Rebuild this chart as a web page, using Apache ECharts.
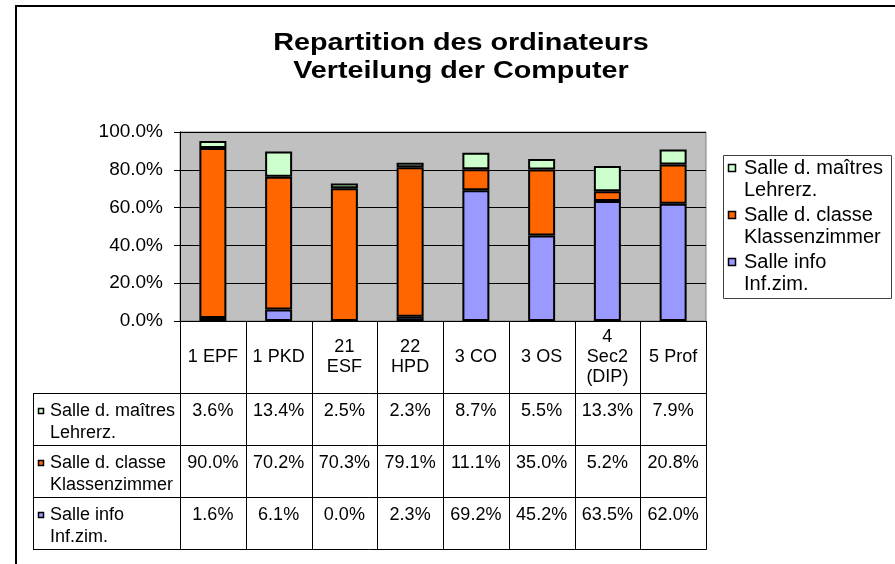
<!DOCTYPE html>
<html>
<head>
<meta charset="utf-8">
<script src="https://cdn.jsdelivr.net/npm/echarts@6/dist/echarts.min.js"></script>
<style>
html, body { margin: 0; padding: 0; background: #fff; }
#chart { width: 895px; height: 564px; }
</style>
</head>
<body>
<div id="chart"></div>
<script>
// categories = table header labels
var categories = ['1 EPF', '1 PKD', '21\nESF', '22\nHPD', '3 CO', '3 OS', '4\nSec2\n(DIP)', '5 Prof'];
var nameMaitres = 'Salle d. maîtres\nLehrerz.';
var nameClasse = 'Salle d. classe\nKlassenzimmer';
var nameInfo = 'Salle info\nInf.zim.';
// values in percent
var maitres = [3.6, 13.4, 2.5, 2.3, 8.7, 5.5, 13.3, 7.9];
var classe = [90.0, 70.2, 70.3, 79.1, 11.1, 35.0, 5.2, 20.8];
var info = [1.6, 6.1, 0.0, 2.3, 69.2, 45.2, 63.5, 62.0];
var yTicks = [0, 20, 40, 60, 80, 100];
var titleLines = ['Repartition des ordinateurs', 'Verteilung der Computer'];

var FONT = '"Liberation Sans", Arial, sans-serif';
var colMaitres = '#CCFFCC', colClasse = '#FF6600', colInfo = '#9999FF';

var chart = echarts.init(document.getElementById('chart'));

var barStyle = function (c) {
	return { color: c, borderColor: '#000', borderWidth: 2 };
};

var option = {
	animation: false,
	grid: {
		left: 180,
		top: 132,
		right: 189,
		bottom: 243,
		show: true,
		backgroundColor: '#C0C0C0',
		borderColor: '#808080',
		borderWidth: 1,
	},
	xAxis: {
		type: 'category',
		data: categories,
		axisLine: { lineStyle: { color: '#000', width: 1 } },
		axisTick: { show: false },
		axisLabel: { show: false },
	},
	yAxis: {
		type: 'value',
		min: yTicks[0],
		max: yTicks[yTicks.length - 1],
		interval: yTicks[1] - yTicks[0],
		axisLine: { show: true, lineStyle: { color: '#000', width: 1 } },
		axisTick: { show: true, length: 6, lineStyle: { color: '#000' } },
		splitLine: { lineStyle: { color: '#000', width: 1 } },
		axisLabel: {
			color: '#000',
			fontSize: 19,
			fontFamily: FONT,
			margin: 17,
			formatter: function (v) {
				return v.toFixed(1) + '%';
			},
		},
	},
	series: [
		{ name: nameInfo, type: 'bar', stack: 's', barWidth: 27, data: info, itemStyle: barStyle(colInfo) },
		{ name: nameClasse, type: 'bar', stack: 's', barWidth: 27, data: classe, itemStyle: barStyle(colClasse) },
		{ name: nameMaitres, type: 'bar', stack: 's', barWidth: 27, data: maitres, itemStyle: barStyle(colMaitres) },
	],
};
chart.setOption(option);

// ---- table, legend, title, frame drawn from the axis scale ----
var n = categories.length;
var c0 = chart.convertToPixel({ xAxisIndex: 0 }, 0);
var c1 = chart.convertToPixel({ xAxisIndex: 0 }, 1);
var band = c1 - c0;
var y0 = Math.round(chart.convertToPixel({ yAxisIndex: 0 }, 0));
var xl = c0 - band / 2;
var xr = xl + band * n;
var tableLeft = 33;
var headH = 72;
var rowH = 52;
var rowTop = y0 + headH;
var tableBottom = rowTop + rowH * 3;
var px = function (v) {
	return Math.round(v) + 0.5;
};

var els = [];
var lineEl = function (x1, y1, x2, y2, color) {
	els.push({
		type: 'line',
		shape: { x1: x1, y1: y1, x2: x2, y2: y2 },
		style: { stroke: color || '#000', lineWidth: 1 },
		silent: true,
	});
};

// outer frame
els.push({
	type: 'rect',
	shape: { x: 16, y: 6, width: 1000, height: 700 },
	style: { fill: null, stroke: '#000', lineWidth: 2 },
	silent: true,
	z: -10,
});

// title (the original is drawn horizontally stretched)
titleLines.forEach(function (t, i) {
	els.push({
		type: 'text',
		x: 461,
		y: 44 + i * 28,
		scaleX: 1.25,
		style: {
			text: t,
			font: 'bold 23px ' + FONT,
			fill: '#000',
			align: 'center',
			verticalAlign: 'middle',
		},
	});
});

// table grid lines
for (var r = 0; r <= 3; r++) {
	lineEl(tableLeft, px(rowTop + r * rowH), px(xr), px(rowTop + r * rowH));
}
for (var i = 0; i <= n; i++) {
	lineEl(px(xl + i * band), y0, px(xl + i * band), px(tableBottom));
}
lineEl(px(tableLeft), px(rowTop), px(tableLeft), px(tableBottom));

// header labels
categories.forEach(function (c, i) {
	els.push({
		type: 'text',
		x: xl + (i + 0.5) * band,
		y: y0 + headH / 2,
		style: {
			text: c,
			font: '18px ' + FONT,
			fill: '#000',
			align: 'center',
			verticalAlign: 'middle',
			lineHeight: 20,
		},
	});
});

// table rows
var rows = [
	{ name: nameMaitres, color: colMaitres, data: maitres },
	{ name: nameClasse, color: colClasse, data: classe },
	{ name: nameInfo, color: colInfo, data: info },
];
rows.forEach(function (row, r) {
	var top = rowTop + r * rowH;
	els.push({
		type: 'rect',
		shape: { x: 38.5, y: top + 15.5, width: 5, height: 5 },
		style: { fill: row.color, stroke: '#000', lineWidth: 1.5 },
	});
	els.push({
		type: 'text',
		x: 50,
		y: top + 7,
		style: {
			text: row.name,
			font: '18px ' + FONT,
			fill: '#000',
			align: 'left',
			verticalAlign: 'top',
			lineHeight: 22,
		},
	});
	row.data.forEach(function (v, i) {
		els.push({
			type: 'text',
			x: xl + (i + 0.5) * band,
			y: top + 7,
			style: {
				text: v.toFixed(1) + '%',
				font: '18px ' + FONT,
				fill: '#000',
				align: 'center',
				verticalAlign: 'top',
				lineHeight: 22,
			},
		});
	});
});

// legend
els.push({
	type: 'rect',
	shape: { x: 723.5, y: 155.5, width: 168, height: 143 },
	style: { fill: '#fff', stroke: '#404040', lineWidth: 1 },
});
rows.forEach(function (row, k) {
	var top = 157 + k * 47;
	els.push({
		type: 'rect',
		shape: { x: 728.5, y: top + 7.5, width: 7, height: 7 },
		style: { fill: row.color, stroke: '#000', lineWidth: 1.5 },
	});
	els.push({
		type: 'text',
		x: 744,
		y: top,
		style: {
			text: row.name,
			font: '20px ' + FONT,
			fill: '#000',
			align: 'left',
			verticalAlign: 'top',
			lineHeight: 22,
		},
	});
});

chart.setOption({ graphic: { elements: els } });
</script>
</body>
</html>
